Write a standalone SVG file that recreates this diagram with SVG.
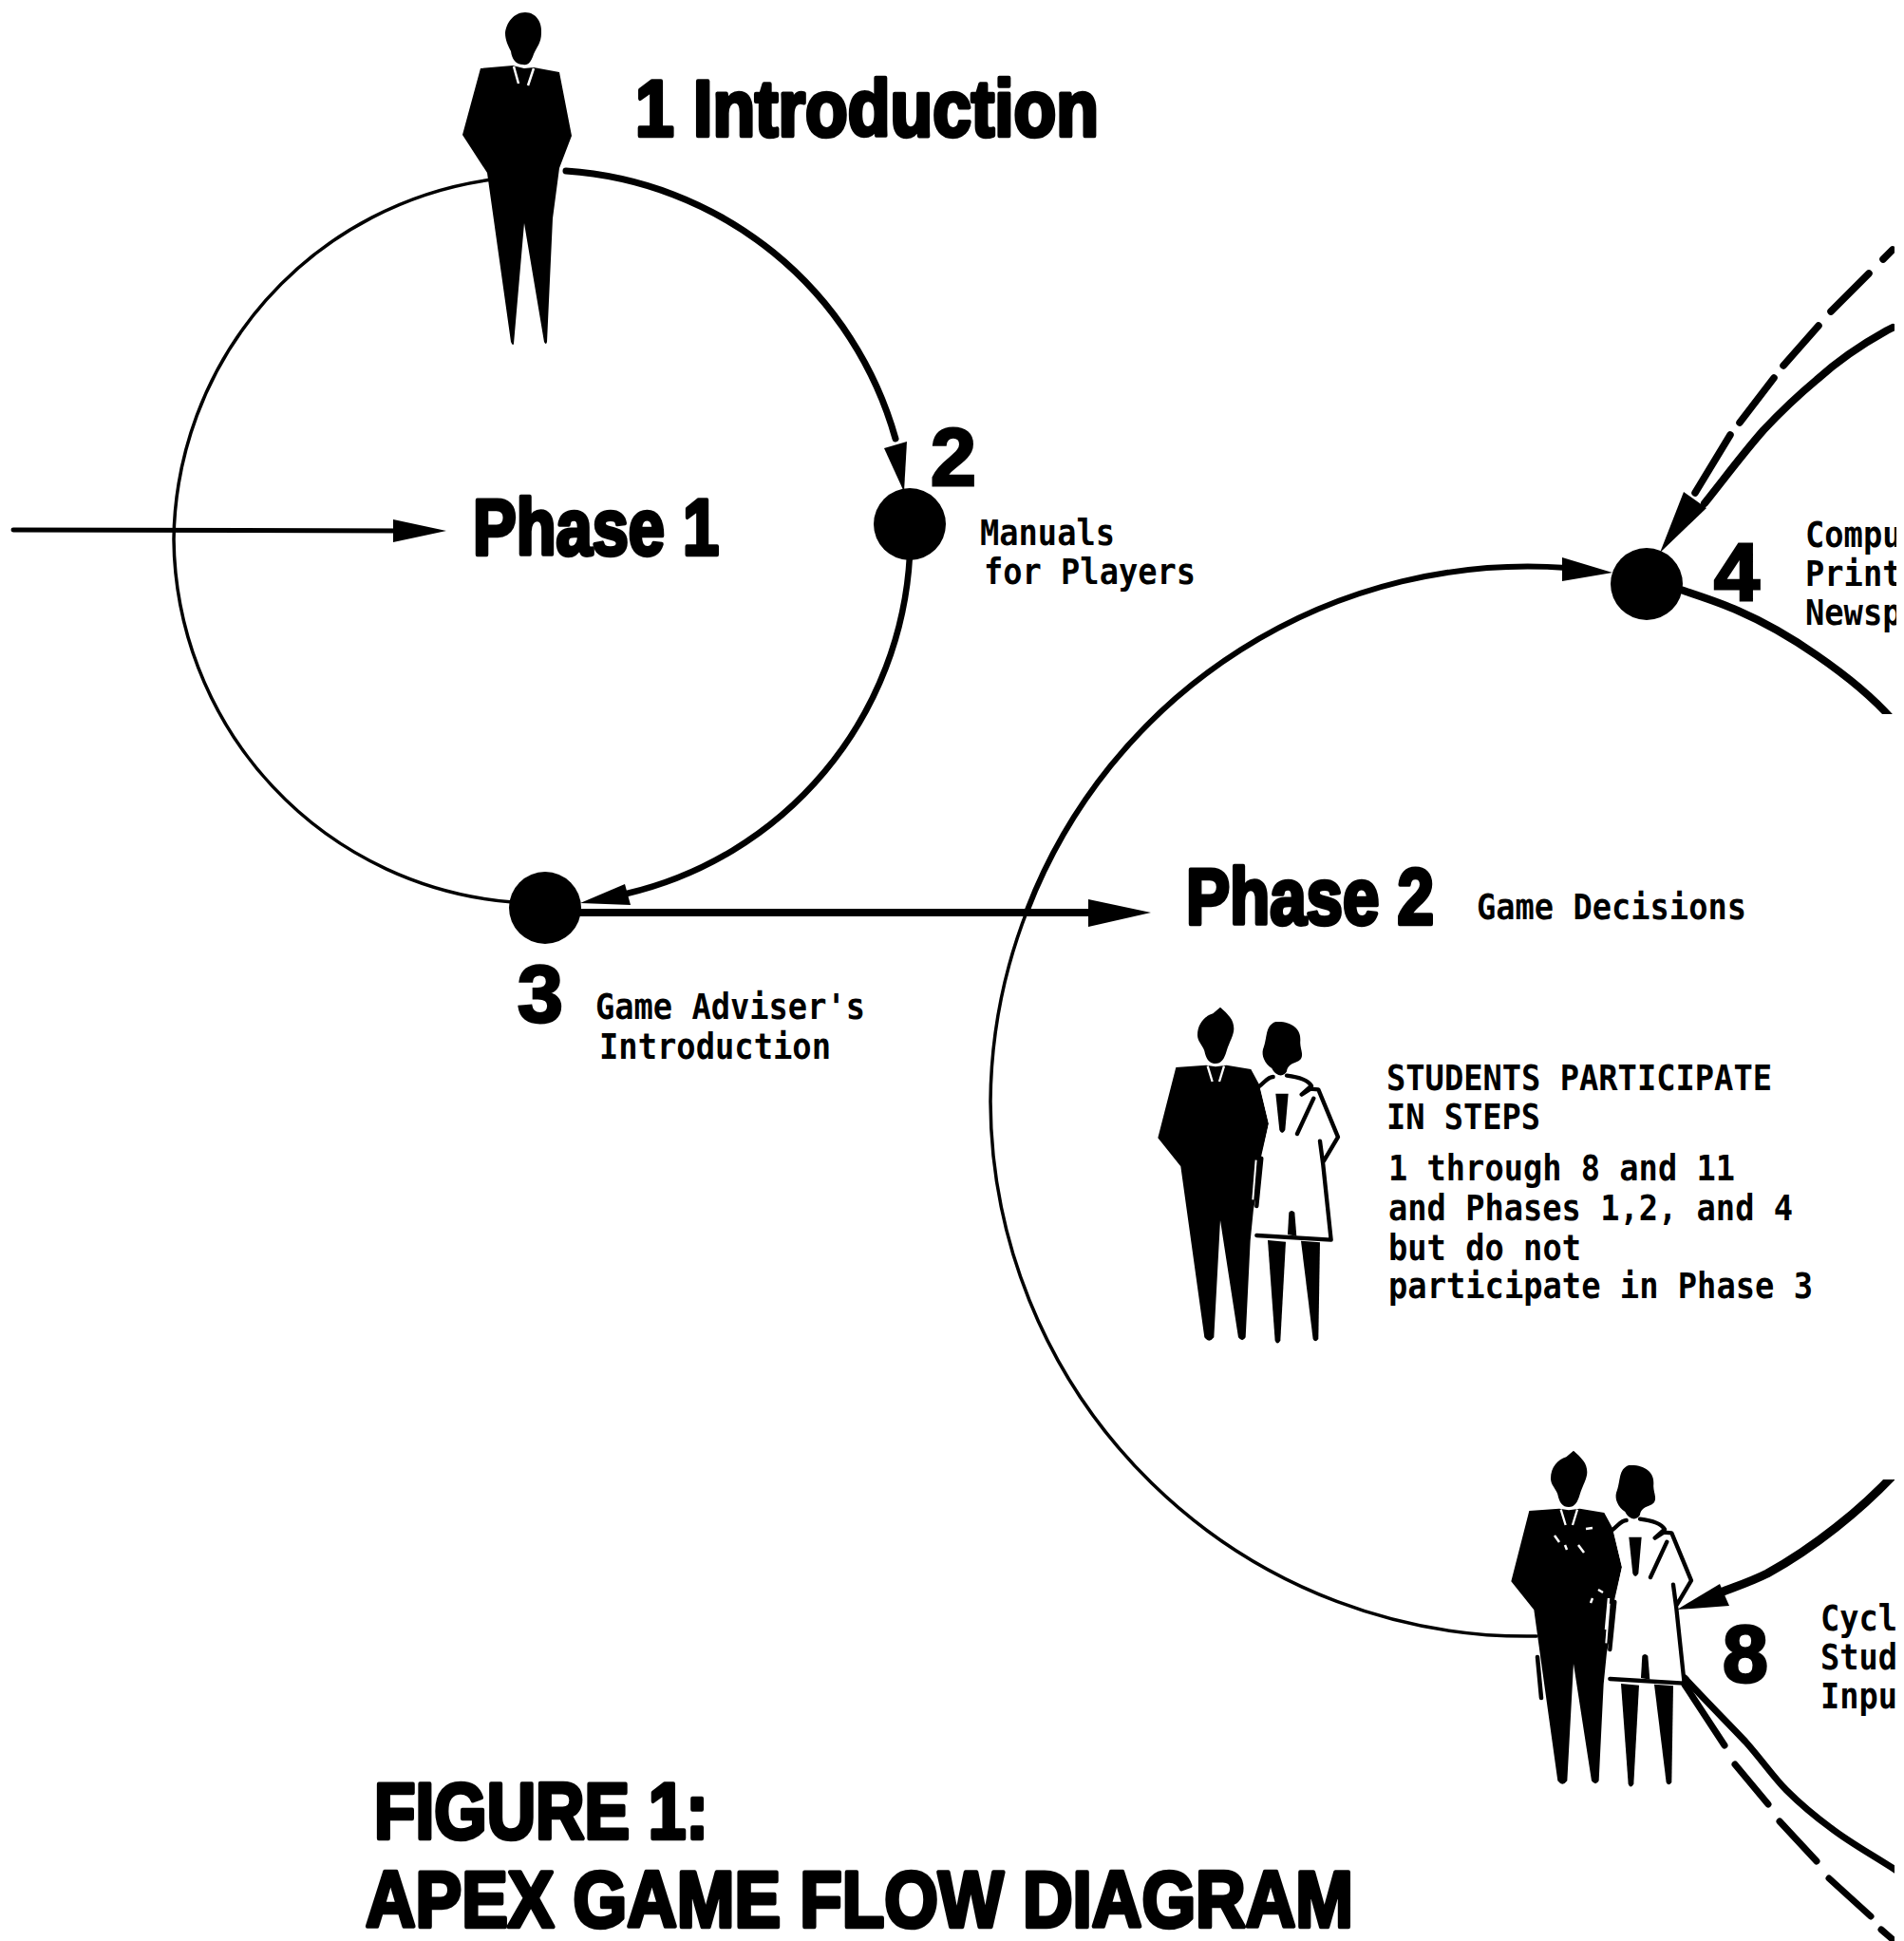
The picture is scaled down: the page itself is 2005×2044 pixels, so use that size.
<svg xmlns="http://www.w3.org/2000/svg" width="2005" height="2044" viewBox="0 0 2005 2044">
<style>
.h{font-family:"Liberation Sans",Arial,sans-serif;font-weight:bold;font-size:84px;fill:#000;stroke:#000;stroke-width:4.5px;stroke-linejoin:round}
.n{font-family:"Liberation Sans",Arial,sans-serif;font-weight:bold;font-size:86px;fill:#000;stroke:#000;stroke-width:3px}
.t{font-family:"DejaVu Sans Mono","Liberation Mono",monospace;font-weight:bold;font-size:37px;fill:#000}
.l{fill:none;stroke:#000;stroke-linecap:round;stroke-linejoin:round}
.b{stroke-linecap:butt}
.d{fill:#000}
</style>
<defs>
<clipPath id="page"><path d="M0,0H1995V752H1900V1558H1995V2044H0Z"/></clipPath>
<clipPath id="tx"><rect x="0" y="0" width="1997" height="2044"/></clipPath>
<g id="couple">
<path d="M315,62C340,85 358,100 358,130C358,150 345,170 335,200C328,225 318,240 300,240C280,240 270,225 265,200C258,180 243,170 243,150C243,115 265,90 292,82Z"/>
<path d="M175,252L270,245L300,250L335,245L412,258L440,310L468,430L445,530L440,600L420,700L410,800L395,1105Q385,1122 372,1105L315,735L295,1105Q280,1125 265,1105L190,565L118,475Z"/>
<path d="M275,248L290,297M327,248L312,297" fill="none" stroke="#fff" stroke-width="7"/>
<path d="M428,545L418,670" fill="none" stroke="#fff" stroke-width="6"/>
<path d="M440,315L480,295L530,295L590,300L630,330L690,470L640,545L665,795L430,782L445,540L468,430Z" fill="#fff"/>
<path d="M490,108C540,105 570,130 568,165C565,190 580,210 570,225C560,240 530,235 525,265C515,285 490,280 478,255C455,240 445,215 450,195C465,160 455,120 490,108Z"/>
<path d="M438,312C455,300 465,282 482,282M525,278C560,282 590,290 603,310L572,338L600,320L625,322L687,472L642,548M630,485L640,560L665,797L430,783M610,350L558,462M445,540L430,690" fill="none" stroke="#000" stroke-width="13" stroke-linejoin="round" stroke-linecap="round"/>
<path d="M490,335L530,335L520,450Q510,468 502,450Z"/>
<path d="M528,780L532,710Q540,700 550,710L556,785Z"/>
<path d="M465,798L522,803L505,1115Q495,1132 488,1115Z"/>
<path d="M570,800L630,805L625,1110Q615,1124 608,1110Z"/>
</g>
</defs>
<rect width="2005" height="2044" fill="#fff"/>
<g id="connectors" clip-path="url(#page)">
<path class="l" stroke-width="3.5" d="M518,189A387,387 0 0 0 183,568A387,387 0 0 0 540,950"/>
<path class="l" stroke-width="7" d="M596,180A387,387 0 0 1 943,462"/>
<path class="d" d="M952,518L931,472L955,465Z"/>
<path class="l" stroke-width="6.5" d="M958,585A387,387 0 0 1 660,941"/>
<path class="d" d="M611,951L658,931L664,953Z"/>
<path class="l" stroke-width="5" d="M14,558L425,559"/>
<path class="d" d="M470,559L414,547L414,571Z"/>
<path class="l" stroke-width="8" d="M612,961L1160,961"/>
<path class="d" d="M1212,961L1146,947L1146,976Z"/>
<path class="l" stroke-width="3.5" d="M1618,1723A565,565 0 0 1 1043,1160A565,565 0 0 1 1082,958"/>
<path class="l" stroke-width="6" d="M1082,958A565,565 0 0 1 1650,598"/>
<path class="d" d="M1698,603L1645,587L1645,612Z"/>
<path class="l b" stroke-width="8" d="M1770,621C1790,628 1810,634 1830,643C1860,656 1890,674 1913,690C1945,712 1970,732 1992,757"/>
<path class="l" stroke-width="8" d="M1993,345L1987,348C1960,363 1935,380 1913,400C1895,415 1872,437 1857,453C1835,478 1815,505 1795,530"/>
<path class="l" stroke-width="7.5" d="M1983,273L1993,263M1968,288L1928,328M1915,343L1878,385M1868,398L1832,445M1822,458L1785,519"/>
<path class="d" d="M1748,582L1773,518L1797,535Z"/>
<path class="l b" stroke-width="9" d="M1997,1550C1960,1590 1910,1630 1861,1657C1845,1665 1830,1670 1812,1677"/>
<path class="d" d="M1766,1695L1811,1668L1821,1691Z"/>
<path class="l" stroke-width="7" d="M1774,1767C1800,1795 1820,1815 1838,1834C1855,1853 1868,1872 1881,1885C1898,1902 1913,1914 1928,1925C1950,1942 1975,1955 2005,1975"/>
<path class="l" stroke-width="7" d="M1774,1774L1816,1838M1827,1858L1862,1900M1874,1918L1913,1960M1926,1978L1970,2018M1981,2032L1995,2044"/>
<path class="l" stroke-width="4.5" d="M1619,1745L1623,1788"/>
</g>
<g id="step1">
<path d="M553,13C565,13 571,24 570,35C570,45 565,50 562,57C559,66 556,69 551,68C543,68 539,62 538,54C535,48 532,42 532,35C533,24 541,13 553,13Z"/>
<path d="M506,72L540,69L552,72L562,71L589,76L602,143L589,177L582,230L576,360Q575,364 573,360L552,235L541,362Q540,365 538,360L513,182L487,142Z"/>
<path d="M541,70L546,88M562,72L556,90" fill="none" stroke="#fff" stroke-width="2.5"/>
<text class="h" x="669" y="143" textLength="488" lengthAdjust="spacingAndGlyphs">1 Introduction</text>
</g>
<g id="step2">
<circle cx="958" cy="552" r="38"/>
<text class="n" x="980" y="511">2</text>
<text class="t" x="1032" y="574" textLength="142" lengthAdjust="spacingAndGlyphs">Manuals</text>
<text class="t" x="1036" y="615" textLength="223" lengthAdjust="spacingAndGlyphs">for Players</text>
</g>
<g id="step3">
<circle cx="574" cy="956" r="38"/>
<text class="n" x="545" y="1076">3</text>
<text class="t" x="627" y="1073" textLength="284" lengthAdjust="spacingAndGlyphs">Game Adviser's</text>
<text class="t" x="631" y="1115" textLength="244" lengthAdjust="spacingAndGlyphs">Introduction</text>
</g>
<g id="step4">
<circle cx="1734" cy="615" r="38"/>
<text class="n" x="1805" y="632">4</text>
<g clip-path="url(#tx)">
<text class="t" x="1901" y="576" textLength="101.5" lengthAdjust="spacingAndGlyphs">Compu</text>
<text class="t" x="1901" y="617" textLength="101.5" lengthAdjust="spacingAndGlyphs">Print</text>
<text class="t" x="1901" y="658" textLength="101.5" lengthAdjust="spacingAndGlyphs">Newsp</text>
</g>
</g>
<g id="step8">
<use href="#couple" transform="translate(1552,1507) scale(.3333)"/>
<path d="M1637,1617L1642,1624M1648,1627L1650,1632M1662,1627L1668,1635M1670,1610L1677,1609M1683,1674L1688,1677M1677,1683L1675,1688M1694,1683L1691,1716" fill="none" stroke="#fff" stroke-width="2.5"/>
<text class="n" x="1814" y="1771">8</text>
<g clip-path="url(#tx)">
<text class="t" x="1917" y="1717" textLength="81" lengthAdjust="spacingAndGlyphs">Cycl</text>
<text class="t" x="1917" y="1758" textLength="81" lengthAdjust="spacingAndGlyphs">Stud</text>
<text class="t" x="1917" y="1799" textLength="81" lengthAdjust="spacingAndGlyphs">Inpu</text>
</g>
</g>
<g id="phase1">
<text class="h" x="498" y="584" textLength="259" lengthAdjust="spacingAndGlyphs">Phase 1</text>
</g>
<g id="phase2">
<text class="h" x="1249" y="973" textLength="261" lengthAdjust="spacingAndGlyphs">Phase 2</text>
<text class="t" x="1555" y="968" textLength="284" lengthAdjust="spacingAndGlyphs">Game Decisions</text>
</g>
<g id="students">
<use href="#couple" transform="translate(1180,1040) scale(.3333)"/>
<text class="t" x="1460" y="1148" textLength="406" lengthAdjust="spacingAndGlyphs">STUDENTS PARTICIPATE</text>
<text class="t" x="1460" y="1189" textLength="162" lengthAdjust="spacingAndGlyphs">IN STEPS</text>
<text class="t" x="1462" y="1243" textLength="365" lengthAdjust="spacingAndGlyphs">1 through 8 and 11</text>
<text class="t" x="1462" y="1285" textLength="426" lengthAdjust="spacingAndGlyphs">and Phases 1,2, and 4</text>
<text class="t" x="1462" y="1327" textLength="203" lengthAdjust="spacingAndGlyphs">but do not</text>
<text class="t" x="1462" y="1367" textLength="447" lengthAdjust="spacingAndGlyphs">participate in Phase 3</text>
</g>
<g id="figure-title">
<text class="h" x="394" y="1936" textLength="352" lengthAdjust="spacingAndGlyphs">FIGURE 1:</text>
<text class="h" x="385" y="2029" textLength="1040" lengthAdjust="spacingAndGlyphs">APEX GAME FLOW DIAGRAM</text>
</g>
</svg>
